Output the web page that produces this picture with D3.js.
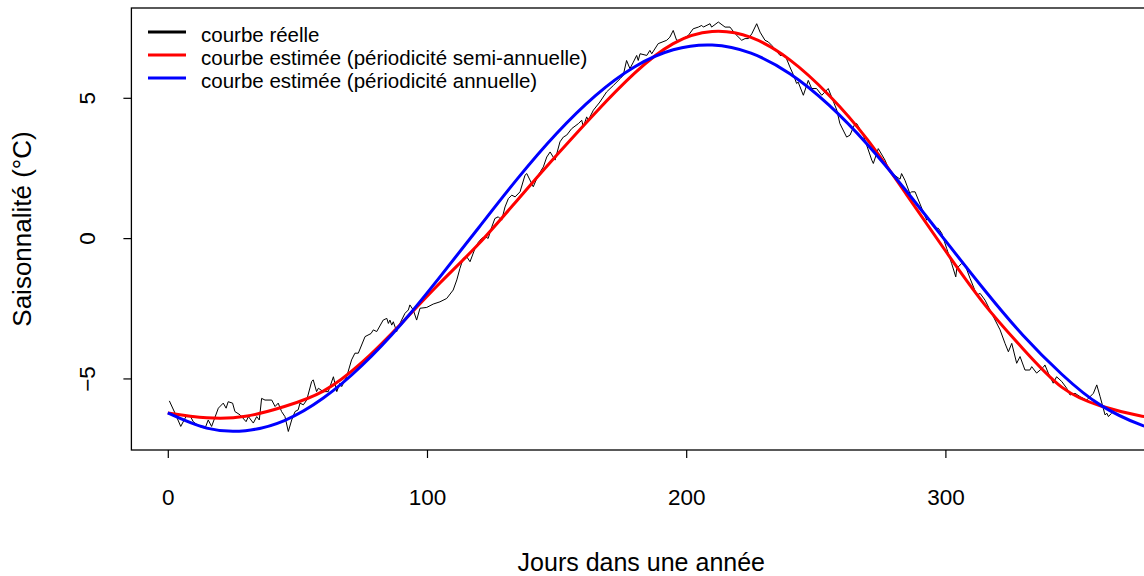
<!DOCTYPE html>
<html>
<head>
<meta charset="utf-8">
<script src="https://cdn.jsdelivr.net/npm/d3@7"></script>
<style>
  html, body { margin: 0; padding: 0; background: #ffffff; }
  svg { display: block; }
  text { font-family: "Liberation Sans", Arial, sans-serif; fill: #000; }
</style>
</head>
<body>
<svg id="chart" width="1144" height="576"></svg>
<script>
// ---------------- data ----------------
const xTicks = [0, 100, 200, 300];
const yTicks = [-5, 0, 5];

const xTitle = "Jours dans une année";
const yTitle = "Saisonnalité (°C)";

const legendLabels = [
  "courbe réelle",
  "courbe estimée (périodicité semi-annuelle)",
  "courbe estimée (périodicité annuelle)"
];
const seriesColors = ["#000000", "#ff0000", "#0000ff"];

const realDays = [0.6, 2.8, 5.0, 7.0, 8.8, 9.8, 12.2, 14.4, 15.6, 16.9, 19.5, 21.4, 22.5, 23.3, 25.0, 25.9, 27.9, 30.2, 31.1, 33.0, 34.3, 35.3, 36.2, 37.5,
  40.1, 41.4, 42.6, 43.9, 45.2, 46.5, 47.8, 49.1, 50.3, 51.0, 52.3, 53.6, 55.5, 56.1, 57.4, 58.1, 60.0, 61.9, 63.9, 65.2, 66.4, 67.1, 69.0, 70.9, 72.2, 73.5, 76.1, 78.4,
  79.3, 80.6, 83.1, 84.5, 85.1, 85.7, 86.4, 87.0, 88.3, 88.9, 90.2, 91.5, 92.8, 93.4, 94.7, 96.0, 97.3, 99.9, 102.4, 105.0, 107.6, 110.1, 111.5, 112.7, 114.0, 115.3, 116.6, 118.4,
  119.8, 121.1, 122.4, 123.6, 125.0, 126.2, 127.5, 128.8, 130.1, 131.4, 132.7, 134.0, 135.9, 137.8, 138.5, 141.0, 142.9, 144.9, 146.2, 147.5, 149.4, 151.3, 152.6, 153.9, 155.8, 158.4, 159.7,
  160.3, 161.6, 162.2, 164.2, 166.7, 169.3, 171.9, 174.5, 175.7, 177.0, 178.3, 179.6, 180.9, 181.5, 182.2, 184.8, 186.0, 186.7, 189.2, 192.5, 193.7, 195.0, 196.3, 197.6, 200.8,
  202.7, 204.7, 206.0, 206.6, 209.2, 209.8, 212.4, 215.0, 216.9, 218.9, 221.4, 222.7, 224.0, 225.3, 227.2, 228.5, 230.4, 231.7, 233.0, 236.2, 238.2, 240.0,
  241.3, 242.6, 243.2, 245.2, 247.1, 248.4, 250.3, 252.3, 254.8, 256.1, 258.1, 259.3, 261.9, 263.2, 265.1, 265.8, 268.3, 271.6, 272.2, 274.1, 276.7, 278.6, 282.5,
  283.1, 284.4, 286.3, 287.0, 288.3, 290.9, 292.8, 293.4, 296.0, 297.3, 298.6, 300.5, 302.4, 304.0, 304.4, 306.3, 307.6, 309.5, 312.1, 313.4, 315.3, 317.2,
  321.1, 323.0, 324.3, 325.6, 327.5, 328.8, 330.7, 332.6, 333.3, 335.2, 337.8, 338.4, 339.7, 341.6, 342.9, 344.9, 346.8, 348.1, 350.0, 352.0, 354.5, 357.1, 358.4, 359.7, 361.6, 362.3, 362.9, 364.1];
const realValues = [-5.80, -6.24, -6.71, -6.36, -6.36, -6.54, -6.71, -6.77, -6.48, -6.71, -6.06, -5.88, -6.06, -5.83, -5.88, -6.18, -6.30, -6.54, -6.36, -6.59, -6.36, -6.48, -5.71, -5.77,
  -5.77, -6.00, -5.88, -6.18, -6.36, -6.89, -6.48, -6.18, -6.12, -5.88, -5.94, -5.77, -5.11, -5.05, -5.47, -5.35, -5.47, -5.47, -4.94, -5.47, -5.17, -5.29, -4.94, -4.34, -4.10, -4.10, -3.51, -3.40,
  -3.27, -3.33, -2.92, -2.86, -3.04, -2.92, -3.10, -2.98, -3.33, -3.16, -2.92, -2.68, -2.56, -2.38, -2.56, -2.92, -2.50, -2.47, -2.35, -2.27, -2.15, -1.85, -1.49, -1.08, -0.72, -0.66, -0.84, -0.40,
  -0.15, -0.01, 0.05, -0.01, 0.40, 0.70, 0.76, 0.64, 1.11, 1.41, 1.53, 1.47, 1.65, 2.24, 2.30, 1.83, 2.24, 2.54, 2.89, 3.07, 2.78, 3.43, 3.60, 3.67, 3.90, 4.08, 4.20,
  3.96, 4.32, 4.20, 4.56, 4.85, 5.21, 5.44, 5.68, 5.80, 6.33, 6.04, 6.27, 6.51, 6.33, 6.57, 6.51, 6.69, 6.57, 6.93, 7.05, 7.16, 7.40, 7.05, 7.05, 7.22,
  7.46, 7.52, 7.58, 7.52, 7.64, 7.52, 7.70, 7.52, 7.52, 7.28, 7.05, 7.11, 7.11, 7.28, 7.64, 7.34, 7.05, 6.99, 6.87, 6.51, 6.51, 6.10,
  5.83, 5.51, 5.56, 5.09, 5.62, 5.33, 5.33, 5.09, 5.33, 5.03, 4.56, 4.08, 3.60, 3.67, 4.08, 4.08, 3.67, 2.78, 2.66, 3.19, 2.78, 2.36, 2.10,
  2.30, 2.06, 1.59, 1.65, 1.65, 1.06, 0.64, 0.70, 0.35, 0.35, 0.17, -0.37, -0.90, -1.38, -1.08, -0.90, -0.96, -1.43, -2.03, -1.97, -2.21, -2.56,
  -3.27, -3.75, -4.05, -3.75, -4.46, -4.22, -4.70, -4.70, -4.58, -4.81, -4.60, -4.52, -4.81, -5.17, -4.94, -5.11, -5.35, -5.59, -5.53, -5.65, -5.77, -5.53, -5.23, -5.65, -6.30, -6.24, -6.36, -6.24];

// fitted curves, read at regular days
const fitDays = [0, 15, 30, 45, 60, 75, 90, 105, 120, 135, 150, 165, 180, 195, 210, 225, 240, 255, 270, 285, 300, 315, 330, 345, 360, 375, 380];
const semiAnnualFit = [-6.23, -6.40, -6.35, -6.00, -5.45, -4.42, -3.05, -1.60, -0.20, 1.37, 2.95, 4.47, 5.87, 6.93, 7.36, 7.15, 6.35, 5.10, 3.50, 1.55, -0.45, -2.35, -3.95, -5.32, -5.98, -6.33, -6.38];
const annualFit = [-6.23, -6.77, -6.86, -6.50, -5.70, -4.53, -3.07, -1.38, 0.38, 2.13, 3.73, 5.08, 6.10, 6.71, 6.88, 6.59, 5.86, 4.75, 3.33, 1.67, -0.09, -1.84, -3.47, -4.86, -5.96, -6.64, -6.77];

// ---------------- drawing ----------------
const svg = d3.select("#chart");
svg.append("rect").attr("width", 1144).attr("height", 576).attr("fill", "#fff");

const plot = { left: 131.4, right: 1151.2, top: 8, bottom: 450 };
const x = d3.scaleLinear().domain([-14.04, 379.4]).range([plot.left, plot.right]);
const y = d3.scaleLinear().domain([-7.55, 8.2]).range([plot.bottom, plot.top]);

svg.append("clipPath").attr("id", "clip")
  .append("rect")
  .attr("x", plot.left).attr("y", plot.top)
  .attr("width", plot.right - plot.left).attr("height", plot.bottom - plot.top);

const g = svg.append("g").attr("clip-path", "url(#clip)");

const realData = realDays.map((d, i) => [d, realValues[i]]);
const semiData = fitDays.map((d, i) => [d, semiAnnualFit[i]]);
const annData = fitDays.map((d, i) => [d, annualFit[i]]);

const lineLin = d3.line().x(d => x(d[0])).y(d => y(d[1]));
const lineSmooth = d3.line().x(d => x(d[0])).y(d => y(d[1])).curve(d3.curveNatural);

g.append("path").datum(realData).attr("d", lineLin)
  .attr("fill", "none").attr("stroke", seriesColors[0]).attr("stroke-width", 1)
  .attr("stroke-linejoin", "round");
g.append("path").datum(semiData).attr("d", lineSmooth)
  .attr("fill", "none").attr("stroke", seriesColors[1]).attr("stroke-width", 3);
g.append("path").datum(annData).attr("d", lineSmooth)
  .attr("fill", "none").attr("stroke", seriesColors[2]).attr("stroke-width", 3);

// box
svg.append("rect")
  .attr("x", plot.left).attr("y", plot.top)
  .attr("width", plot.right - plot.left).attr("height", plot.bottom - plot.top)
  .attr("fill", "none").attr("stroke", "#000").attr("stroke-width", 1.3);

const tickFont = "22.5px";

// x axis
const xAxis = svg.append("g").attr("transform", `translate(0,${plot.bottom})`)
  .call(d3.axisBottom(x).tickValues(xTicks).tickSize(8).tickFormat(d3.format("d")));
xAxis.select(".domain").remove();
xAxis.selectAll(".tick line").attr("stroke", "#000").attr("stroke-width", 1.2);
xAxis.selectAll(".tick text")
  .attr("y", 55).attr("dy", 0)
  .style("font-size", tickFont).style("font-family", "'Liberation Sans', Arial, sans-serif").attr("fill", "#000");

// y axis
const yAxis = svg.append("g").attr("transform", `translate(${plot.left},0)`)
  .call(d3.axisLeft(y).tickValues(yTicks).tickSize(8).tickFormat(d3.format("d")));
yAxis.select(".domain").remove();
yAxis.selectAll(".tick line").attr("stroke", "#000").attr("stroke-width", 1.2);
yAxis.selectAll(".tick text")
  .attr("x", null).attr("dy", 0)
  .attr("text-anchor", "middle")
  .attr("transform", "translate(-36,0) rotate(-90)")
  .style("font-size", tickFont).style("font-family", "'Liberation Sans', Arial, sans-serif").attr("fill", "#000");

// titles
svg.append("text")
  .attr("x", (plot.left + plot.right) / 2).attr("y", 571)
  .attr("text-anchor", "middle").style("font-size", "25px")
  .text(xTitle);
svg.append("text")
  .attr("transform", `translate(31,${(plot.top + plot.bottom) / 2}) rotate(-90)`)
  .attr("text-anchor", "middle").style("font-size", "26px")
  .text(yTitle);

// legend
const legend = svg.append("g");
legendLabels.forEach((lab, i) => {
  const ly = 32 + i * 23;
  legend.append("line")
    .attr("x1", 148).attr("x2", 186).attr("y1", ly).attr("y2", ly)
    .attr("stroke", seriesColors[i]).attr("stroke-width", 3);
  legend.append("text")
    .attr("x", 201).attr("y", ly + 9.5)
    .style("font-size", "20.5px")
    .text(lab);
});
</script>
</body>
</html>
